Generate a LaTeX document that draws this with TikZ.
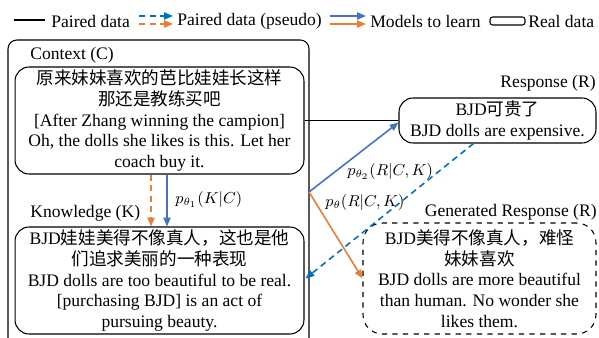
\documentclass[tikz,border=0pt]{standalone}
\usepackage{fontspec}
\setmainfont{Liberation Serif}
\newfontfamily\cjk{Noto Sans CJK SC}
\usetikzlibrary{arrows.meta,calc}
\definecolor{mblue}{RGB}{68,114,196}
\definecolor{dblue}{RGB}{0,112,192}
\definecolor{morange}{RGB}{237,125,49}
\tikzset{
  databox/.style={draw,rounded corners=8pt,align=center,inner sep=0pt,line width=0.6pt},
  tag/.style={inner sep=0pt},
  prob/.style={inner sep=0pt,anchor=west,font=\fontsize{9}{10}\selectfont},
  tip/.style={-{Triangle[length=5pt,width=4pt]}},
  pseudo/.style={dash pattern=on 3.5pt off 2.5pt,line width=0.9pt},
  learn/.style={line width=0.9pt},
}

\begin{document}
\begin{tikzpicture}[x=0.02cm,y=-0.02cm,font=\fontsize{10}{11.8}\selectfont]
\useasboundingbox (0,0) rectangle (599,338);

\node [tag,anchor=west] (lg1) at (51,21) {Paired data};
\node [tag,anchor=west] (lg2) at (177,21) {Paired data (pseudo)};
\node [tag,anchor=west] (lg3) at (370,21) {Models to learn};
\node [tag,anchor=west] (lg4) at (528,21) {Real data};
\draw [line width=0.6pt] (lg1.west) ++(-6,-1) -- ++(-31,0);
\draw [pseudo,dblue,tip] (lg2.west) ++(-38,-5) -- ++(34,0);
\draw [pseudo,morange,tip] (lg2.west) ++(-38,3) -- ++(34,0);
\draw [learn,mblue,tip] (lg3.west) ++(-40,-5) -- ++(36,0);
\draw [learn,morange,tip] (lg3.west) ++(-40,3) -- ++(36,0);
\draw [rounded corners=1.5pt,line width=0.6pt] (lg4.west) ++(-38,-4) rectangle ++(35,8);

\draw [rounded corners=5pt,line width=0.6pt] (8,360) |- (309,40) -- (309,360);

\node [tag,anchor=west] (ctxlabel) at (30,55) {Context (C)};
\node [databox,minimum width=5.78cm,minimum height=2.14cm] (ctx) at (159.5,120.5)
  {{\cjk 原来妹妹喜欢的芭比娃娃长这样}\\{\cjk 那还是教练买吧}\\{[}After Zhang winning the campion{]}\\Oh, the dolls she likes is this. Let her\\coach buy it.};

\node [tag,anchor=west] (knowlabel) at (30,213) {Knowledge (K)};
\node [databox,minimum width=5.78cm,minimum height=2.14cm] (know) at (159.5,280.5)
  {BJD{\cjk 娃娃美得不像真人，这也是他}\\{\cjk 们追求美丽的一种表现}\\BJD dolls are too beautiful to be real.\\{[}purchasing BJD{]} is an act of\\pursuing beauty.};

\node [tag,anchor=east] (resplabel) at (596,83) {Response (R)};
\node [databox,minimum width=3.94cm,minimum height=0.9cm] (resp) at (497.5,120.5)
  {BJD{\cjk 可贵了}\\BJD dolls are expensive.};

\node [tag,anchor=east] (genlabel) at (597,212) {Generated Response (R)};
\node [databox,dashed,rounded corners=11pt,minimum width=4.66cm,minimum height=2.22cm] (gen) at (479.5,278.5)
  {BJD{\cjk 美得不像真人，难怪}\\{\cjk 妹妹喜欢}\\BJD dolls are more beautiful\\than human. No wonder she\\likes them.};

\coordinate (fork) at (309,192);
\draw [line width=0.6pt] (ctx.east) -- (ctx.east -| resp.west);
\draw [learn,mblue,tip] (fork) -- ($(resp.west)+(0,2)$);
\draw [learn,morange,tip] (fork) -- (gen.west);
\draw [pseudo,dblue,tip] ($(resp.south)+(-24,0)$) -- ($(know.east)+(1,-2)$);
\draw [pseudo,morange,tip] ($(ctx.south)+(-8.5,0)$) -- ($(know.north)+(-8.5,0)$);
\draw [learn,mblue,tip] ($(ctx.south)+(7.5,0)$) -- ($(know.north)+(7.5,0)$);

\node [prob] (pk) at (175,200) {$p_{\theta_1}(K|C)$};
\node [prob] (prk) at (347,172) {$p_{\theta_2}(R|C,K)$};
\node [prob] (pr) at (325,203) {$p_\theta(R|C,K)$};

\end{tikzpicture}
\end{document}
